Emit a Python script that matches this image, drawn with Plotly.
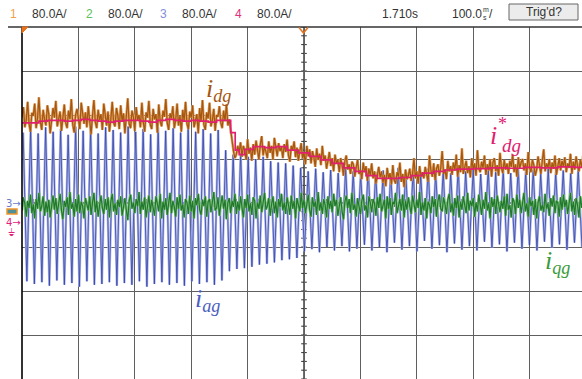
import numpy as np
import plotly.graph_objects as go

# ---------------- data (screen divisions, time in ms; 100 ms/div, 80 A/div) ----------------
SAMPLE_MS = 2.5  # orange / green sample spacing

ORANGE_IDG = [
    1.95, 2.18, 1.72, 1.88, 2.30, 1.80, 1.62, 2.05, 1.98, 2.26,
    1.70, 1.92, 2.40, 1.85, 1.66, 2.12, 1.90, 1.76, 2.22, 2.02,
    1.58, 1.84, 2.16, 1.94, 2.32, 1.74, 1.88, 2.08, 1.64, 1.96,
    2.24, 1.82, 1.70, 2.10, 1.90, 2.36, 1.78, 1.60, 2.00, 2.14,
    1.86, 1.68, 2.28, 1.96, 1.80, 2.06, 1.72, 2.20, 1.92, 1.56,
    1.98, 2.34, 1.84, 1.70, 2.12, 1.88, 2.02, 1.66, 2.26, 1.94,
    1.76, 2.08, 1.62, 1.90, 2.30, 1.82, 1.74, 2.16, 1.98, 1.68,
    2.22, 1.86, 2.04, 1.58, 1.92, 2.38, 1.80, 1.70, 2.10, 1.96,
    1.64, 2.18, 1.88, 2.00, 1.72, 2.28, 1.84, 1.62, 2.06, 1.94,
    2.32, 1.78, 1.68, 2.14, 1.90, 2.02, 1.60, 2.24, 1.86, 1.74,
    2.10, 1.96, 2.36, 1.82, 1.66, 2.04, 1.92, 2.20, 1.70, 1.88,
    2.26, 1.76, 1.98, 1.62, 2.12, 1.86, 2.30, 1.80, 1.68, 2.08,
    1.94, 2.22, 1.72, 1.90, 2.02, 1.58, 2.16, 1.84, 2.34, 1.78,
    1.66, 2.06, 1.92, 2.28, 1.74, 1.88, 2.14, 1.64, 2.00, 1.96,
    2.20, 1.82, 1.70, 2.10, 1.86, 2.24, 1.76,
    1.90, 1.62, 1.40, 1.18, 1.02, 1.10, 1.30, 1.15,
    1.38, 1.05, 1.30, 1.18, 0.98, 1.45, 1.12, 1.26, 0.96, 1.34,
    1.10, 1.42, 1.20, 0.99, 1.32, 1.52, 1.08, 1.28, 1.16, 1.02,
    1.40, 1.14, 1.30, 0.98, 1.48, 1.22, 1.06, 1.36, 1.18, 1.28,
    1.02, 1.34, 1.16, 1.44, 1.08, 0.94, 1.30, 1.20, 1.40, 1.04,
    1.26, 0.96, 1.18, 1.36, 1.02, 1.14, 0.88, 1.30, 1.06, 1.22,
    0.90, 1.18, 1.04, 0.82, 1.24, 0.98, 1.12, 0.86, 1.30, 0.96,
    1.08, 0.78, 0.96, 1.16, 0.84, 1.02, 0.72, 1.10, 0.90, 0.98,
    0.70, 1.02, 0.86, 0.62, 0.96, 1.08, 0.76, 0.88, 0.66, 0.94,
    0.88, 0.60, 0.80, 0.98, 0.66, 0.74, 0.54, 0.92, 0.70, 0.84,
    0.50, 0.78, 0.62, 0.90, 0.56, 0.72, 0.44, 0.68, 0.82, 0.58,
    0.72, 0.46, 0.64, 0.38, 0.80, 0.56, 0.68, 0.42, 0.86, 0.52,
    0.44, 0.70, 0.60, 0.92, 0.48, 0.66, 0.36, 0.76, 0.54, 0.62,
    0.78, 0.50, 0.66, 1.02, 0.56, 0.72, 0.44, 0.84, 0.60, 0.70,
    0.56, 0.82, 0.66, 0.48, 1.08, 0.74, 0.60, 0.90, 0.52, 0.78,
    0.88, 0.62, 0.80, 1.18, 0.66, 0.76, 0.54, 0.96, 0.72, 0.84,
    0.64, 0.92, 0.74, 1.10, 0.60, 0.86, 0.70, 1.24, 0.66, 0.82,
    0.96, 0.68, 0.84, 0.58, 1.02, 0.76, 0.90, 0.62, 1.20, 0.78,
    0.70, 0.94, 0.80, 1.08, 0.64, 0.88, 0.74, 1.00, 0.60, 0.92,
    1.02, 0.72, 0.86, 0.62, 1.14, 0.80, 0.68, 0.98, 0.76, 0.90,
    0.66, 0.96, 0.82, 1.10, 0.70, 0.88, 0.60, 1.04, 0.78, 0.92,
    1.00, 0.74, 0.90, 0.64, 1.16, 0.80, 0.70, 0.98, 0.86, 0.62,
    0.76, 1.06, 0.84, 0.66, 0.96, 1.22, 0.72, 0.90, 0.80, 1.00,
    0.68, 0.92, 0.78, 1.08, 0.64, 0.88, 1.02, 0.74, 0.96, 0.82,
    1.04, 0.70, 0.90, 0.80, 1.12, 0.66, 0.94, 0.76, 1.06, 0.84,
    0.72, 0.98, 0.82, 1.08, 0.88,
]

GREEN_OFFSET_DIV = -0.05  # channel 2 position
GREEN_IQG = [
    -0.12, 0.18, 0.04, -0.26, 0.10, -0.06, 0.24, -0.18, 0.02, -0.30,
    0.14, -0.08, 0.28, -0.14, -0.02, 0.20, -0.24, 0.08, -0.16, 0.12,
    -0.28, 0.06, 0.22, -0.10, 0.16, -0.20, 0.00, 0.26, -0.12, -0.32,
    0.10, -0.04, 0.18, -0.22, 0.30, -0.08, 0.04, -0.26, 0.14, -0.14,
    0.24, -0.18, 0.08, -0.02, -0.30, 0.16, 0.02, -0.12, 0.20, -0.22,
    0.06, 0.28, -0.16, 0.10, -0.26, 0.00, 0.22, -0.06, -0.20, 0.14,
    -0.10, 0.18, -0.28, 0.08, 0.26, -0.14, 0.04, -0.22, 0.12, -0.04,
    0.20, -0.24, 0.02, 0.16, -0.12, -0.34, 0.10, 0.24, -0.08, 0.06,
    -0.18, 0.14, -0.02, 0.30, -0.20, 0.08, -0.10, 0.18, -0.28, 0.04,
    0.22, -0.16, 0.12, -0.06, -0.24, 0.20, 0.00, -0.14, 0.26, -0.30,
    0.08, -0.10, 0.16, -0.22, 0.04, 0.28, -0.18, 0.10, -0.04, -0.26,
    0.18, -0.08, 0.24, -0.12, 0.02, -0.28, 0.14, 0.06, -0.20, 0.22,
    -0.14, 0.10, -0.30, 0.16, 0.00, 0.26, -0.10, -0.22, 0.12, -0.02,
    0.20, -0.26, 0.08, 0.14, -0.16, 0.04, 0.30, -0.12, -0.06, 0.18,
    -0.24, 0.02, 0.22, -0.08, 0.12, -0.32, 0.06, 0.16, -0.18, 0.10,
    -0.04, 0.26, -0.20, 0.08, -0.12, 0.20, 0.00, -0.28, 0.14, -0.06,
    0.24, -0.14, 0.04, -0.22, 0.18, 0.10, -0.30, 0.06, -0.08, 0.22,
    -0.16, 0.12, 0.28, -0.10, -0.02, 0.16, -0.24, 0.02, 0.20, -0.18,
    0.08, -0.28, 0.14, -0.04, 0.26, -0.12, 0.06, -0.20, 0.18, 0.00,
    -0.22, 0.22, -0.08, 0.10, -0.30, 0.16, 0.04, -0.14, 0.28, -0.06,
    0.12, -0.18, 0.02, 0.24, -0.10, -0.26, 0.18, -0.04, 0.08, -0.22,
    0.30, -0.12, 0.06, -0.20, 0.14, 0.00, -0.28, 0.20, -0.08, 0.10,
    -0.16, 0.26, -0.02, 0.12, -0.24, 0.04, 0.18, -0.14, -0.32, 0.08,
    0.22, -0.06, 0.14, -0.18, 0.28, -0.10, 0.02, -0.26, 0.16, -0.02,
    -0.20, 0.10, 0.24, -0.12, 0.00, -0.28, 0.20, 0.06, -0.16, 0.14,
    0.04, -0.24, 0.18, -0.06, 0.26, -0.14, -0.02, 0.12, -0.30, 0.20,
    -0.08, 0.16, -0.22, 0.08, 0.02, 0.28, -0.18, -0.04, 0.14, -0.12,
    0.24, -0.28, 0.10, -0.10, 0.18, -0.02, -0.20, 0.22, 0.04, -0.16,
    0.12, -0.06, 0.30, -0.22, 0.06, -0.12, 0.16, -0.30, 0.08, 0.00,
    -0.18, 0.20, -0.04, 0.14, -0.26, 0.10, 0.24, -0.08, -0.14, 0.18,
    0.02, -0.20, 0.12, 0.26, -0.16, 0.04, -0.24, 0.16, -0.06, 0.22,
    -0.28, 0.08, -0.10, 0.20, 0.00, -0.18, 0.28, -0.12, 0.10, -0.02,
    0.16, -0.26, 0.06, -0.14, 0.24, 0.02, -0.22, 0.12, -0.08, 0.30,
    -0.12, 0.04, -0.30, 0.18, -0.04, 0.14, -0.20, 0.22, 0.06, -0.16,
    0.10, -0.08, 0.20, -0.24, 0.26, -0.10, 0.00, -0.28, 0.16, 0.08,
    -0.20, 0.24, -0.06, 0.12, -0.18, 0.02, 0.28, -0.14, 0.04, -0.26,
    0.18, -0.02, 0.10, -0.22, 0.14, -0.30, 0.06, 0.20, -0.12, 0.00,
    -0.16, 0.26, -0.08, 0.04, -0.24, 0.16, -0.02, 0.22, -0.18, 0.10,
    0.06, -0.26, 0.18, -0.10, 0.24, -0.04, 0.12, -0.20, 0.02, 0.28,
    -0.14, 0.08, -0.22, 0.16, 0.00, -0.28, 0.20, -0.06, 0.14, -0.18,
]

PINK_T = [0, 15, 30, 45, 60, 75, 90, 105, 120, 135, 150, 165, 180, 195, 210, 225,
          240, 255, 270, 285, 300, 315, 330, 345, 360,
          370, 378, 385, 395, 410, 430, 450, 470, 490, 510, 530, 550, 570, 590,
          610, 630, 650, 670, 690, 710, 730, 750, 770, 800, 830, 860, 890, 920,
          950, 980, 995]
PINK_IDG_REF = [1.82, 1.82, 1.86, 1.88, 1.88, 1.86, 1.88, 1.90, 1.88, 1.86, 1.84, 1.86,
                1.88, 1.88, 1.86, 1.84, 1.88, 1.90, 1.88, 1.86, 1.88, 1.86, 1.84, 1.88, 1.88,
                1.60, 1.20, 1.10, 1.22, 1.28, 1.26, 1.28, 1.20, 1.14, 1.06, 0.98, 0.90,
                0.80, 0.72, 0.62, 0.56, 0.56, 0.58, 0.62, 0.68, 0.72, 0.75, 0.77, 0.78,
                0.80, 0.79, 0.81, 0.80, 0.82, 0.81, 0.82]

BLUE_HALF_PERIOD_MS = 6.65
BLUE_IAG_EXTREMES = [
    1.60, -1.78, 1.70, -1.84, 1.58, -1.80, 1.72, -1.88, 1.62, -1.76,
    1.68, -1.86, 1.55, -1.82, 1.74, -1.90, 1.64, -1.78, 1.70, -1.86,
    1.58, -1.84, 1.72, -1.80, 1.66, -1.88, 1.60, -1.82, 1.74, -1.86,
    1.62, -1.78, 1.68, -1.90, 1.56, -1.84, 1.72, -1.80, 1.64, -1.86,
    1.70, -1.82, 1.60, -1.88, 1.74, -1.78, 1.62, -1.84, 1.68, -1.80,
    1.58, -1.86, 1.66, -1.76,
    1.20, -1.55, 1.10, -1.50, 1.15, -1.48, 1.05, -1.45, 1.00, -1.40,
    1.05, -1.38, 0.95, -1.35, 0.92, -1.30, 0.90, -1.28, 0.85, -1.25,
    0.80, -1.10, 0.72, -1.05, 0.78, -1.12, 0.70, -1.00, 0.75, -1.08,
    0.68, -0.98, 0.80, -1.10, 0.72, -1.04, 0.66, -0.95, 0.78, -1.08,
    0.70, -1.00, 0.74, -1.12, 0.68, -0.90, 0.80, -1.06, 0.72, -0.98,
    0.76, -1.10, 0.66, -0.86, 0.78, -1.04, 0.70, -0.96, 0.74, -1.12,
    0.68, -0.92, 0.80, -1.06, 0.72, -0.98, 0.76, -1.08, 0.66, -0.88,
    0.78, -1.02, 0.70, -0.94, 0.74, -1.10, 0.68, -0.90, 0.80, -1.04,
    0.72, -0.96, 0.76, -1.08, 0.66, -0.88, 0.78, -1.02, 0.70, -0.94,
    0.74, -1.06, 0.68, -0.90, 0.76, -1.00,
]

HEADER_CH = ["1", "2", "3", "4"]
HEADER_SCALE = ["80.0A/", "80.0A/", "80.0A/", "80.0A/"]
HEADER_TIME = "1.710s"
HEADER_TDIV = "100.0"
TRIG = "Trig'd?"

# ---------------- styling ----------------
W, H = 582, 379
L, T = 22, 27
PW, PH = W - L, H - T
MS_PER_PX = 100 / 56.4
X_MAX = PW * MS_PER_PX

C_OR_D, C_OR_L = "#a5560f", "#e0a060"
C_GR_D, C_GR_L = "#22782e", "#7fc27f"
C_BL_D, C_BL_L = "#3343ac", "#b0b9e6"
C_PK = "#e0206e"


def px(xp, yp):
    return (xp - L) / PW, 1 - (yp - T) / PH


t_or = np.arange(len(ORANGE_IDG)) * SAMPLE_MS
t_gr = np.arange(len(GREEN_IQG)) * SAMPLE_MS
y_gr = np.array(GREEN_IQG) + GREEN_OFFSET_DIV
t_bl = np.arange(len(BLUE_IAG_EXTREMES)) * BLUE_HALF_PERIOD_MS + 2.0

fig = go.Figure()
fig.add_trace(go.Scatter(x=t_bl, y=BLUE_IAG_EXTREMES, mode="lines",
                         line=dict(color=C_BL_L, width=2.4), hoverinfo="skip"))
fig.add_trace(go.Scatter(x=t_bl, y=BLUE_IAG_EXTREMES, mode="lines",
                         line=dict(color=C_BL_D, width=0.8), hoverinfo="skip"))
fig.add_trace(go.Scatter(x=t_gr, y=y_gr, mode="lines",
                         line=dict(color=C_GR_L, width=2.6), hoverinfo="skip"))
fig.add_trace(go.Scatter(x=t_gr, y=y_gr, mode="lines",
                         line=dict(color=C_GR_D, width=1.2), hoverinfo="skip"))
fig.add_trace(go.Scatter(x=t_or, y=ORANGE_IDG, mode="lines",
                         line=dict(color=C_OR_L, width=2.6), hoverinfo="skip"))
fig.add_trace(go.Scatter(x=t_or, y=ORANGE_IDG, mode="lines",
                         line=dict(color=C_OR_D, width=1.2), hoverinfo="skip"))
fig.add_trace(go.Scatter(x=PINK_T, y=PINK_IDG_REF, mode="lines",
                         line=dict(color=C_PK, width=1.7, shape="hv"), hoverinfo="skip"))

shapes = []
# centre crosshair minor ticks
for k in range(-20, 21):
    yv = k * 0.2
    shapes.append(dict(type="line", xref="x", yref="y", x0=500 - 5, x1=500 + 5,
                       y0=yv, y1=yv, line=dict(color="#333", width=1), layer="below"))
for k in range(0, 50):
    xv = k * 20
    shapes.append(dict(type="line", xref="x", yref="y", x0=xv, x1=xv,
                       y0=-0.09, y1=0.09, line=dict(color="#333", width=1), layer="below"))
# centre lines
shapes.append(dict(type="line", xref="x", yref="paper", x0=500, x1=500, y0=0, y1=1,
                   line=dict(color="#222", width=1.3), layer="below"))
shapes.append(dict(type="line", xref="paper", yref="y", x0=0, x1=1, y0=0, y1=0,
                   line=dict(color="#222", width=1.3), layer="below"))
# borders
x8, _ = px(8, 0)
shapes.append(dict(type="line", xref="paper", yref="paper", x0=x8, x1=1, y0=1, y1=1,
                   line=dict(color="#333", width=1.3)))
shapes.append(dict(type="line", xref="paper", yref="paper", x0=0, x1=0, y0=0, y1=1,
                   line=dict(color="#000", width=1.6)))
# trigger markers
a = px(22, 27); b = px(28, 27); c = px(22, 33)
shapes.append(dict(type="path", xref="paper", yref="paper",
                   path=f"M {a[0]},{a[1]} L {b[0]},{b[1]} L {c[0]},{c[1]} Z",
                   fillcolor="#e8721c", line=dict(color="#e8721c", width=1)))
a = px(299, 27.5); b = px(303.5, 33); c = px(308, 27.5)
shapes.append(dict(type="path", xref="paper", yref="paper",
                   path=f"M {a[0]},{a[1]} L {b[0]},{b[1]} L {c[0]},{c[1]}",
                   line=dict(color="#e8721c", width=1.5)))
# Trig'd? button
a = px(509, 4); b = px(578, 20)
shapes.append(dict(type="rect", xref="paper", yref="paper", x0=a[0], y0=a[1], x1=b[0], y1=b[1],
                   fillcolor="#ececec", line=dict(color="#666", width=1)))
# channel 1 marker on left
a = px(7, 209); b = px(17, 214)
shapes.append(dict(type="rect", xref="paper", yref="paper", x0=a[0], y0=a[1], x1=b[0], y1=b[1],
                   fillcolor="#4f8f9a", line=dict(color="#f0962a", width=1.5)))

ann = []
def text(xp, yp, s, color="#333", size=12, family="Liberation Sans", xanchor="left"):
    xx, yy = px(xp, yp)
    ann.append(dict(x=xx, y=yy, xref="paper", yref="paper", text=s, showarrow=False,
                    xanchor=xanchor, yanchor="middle",
                    font=dict(color=color, size=size, family=family)))

ch_cols = ["#f0a050", "#5cbf5c", "#7f8fd8", "#e0307a"]
ch_x = [8, 84, 158, 233]
for i in range(4):
    text(ch_x[i], 14, HEADER_CH[i], ch_cols[i])
    text(ch_x[i] + 22, 14, HEADER_SCALE[i])
text(380, 14, HEADER_TIME)
text(450, 14, HEADER_TDIV)
text(481, 10, "m", size=7)
text(481, 17, "s", size=7)
text(487, 14, "/")
text(543.5, 12, TRIG, xanchor="center")

# left channel markers
text(4, 203, "3→", "#6a7bc8", size=10, family="DejaVu Sans")
text(4, 222, "4→", "#e0207a", size=10, family="DejaVu Sans")
text(6, 232, "⏚", "#e0207a", size=10, family="DejaVu Sans")

serif = "Liberation Serif"
text(204, 90, "<i>i<sub>dg</sub></i>", C_OR_D, size=26, family=serif)
text(488, 135, "<i>i</i>", C_PK, size=26, family=serif)
text(496, 124, "*", C_PK, size=18, family=serif)
text(500, 145, "<i>dg</i>", C_PK, size=19, family=serif)
text(543, 262, "<i>i<sub>qg</sub></i>", "#3a9a3a", size=26, family=serif)
text(193, 300, "<i>i<sub>ag</sub></i>", "#4a5ec0", size=26, family=serif)

fig.update_layout(
    width=W, height=H,
    margin=dict(l=L, r=0, t=T, b=0, pad=0),
    paper_bgcolor="white", plot_bgcolor="white",
    showlegend=False,
    xaxis=dict(range=[0, X_MAX], dtick=100, tick0=0, showgrid=True, gridcolor="#5f5f5f",
               gridwidth=1, zeroline=False, showticklabels=False, ticks="", showline=False,
               fixedrange=True),
    yaxis=dict(range=[-4, 4], dtick=1, tick0=0, showgrid=True, gridcolor="#5f5f5f",
               gridwidth=1, zeroline=False, showticklabels=False, ticks="", showline=False,
               fixedrange=True),
    shapes=shapes, annotations=ann,
)
fig.write_html("out.html", config={"displayModeBar": False})
